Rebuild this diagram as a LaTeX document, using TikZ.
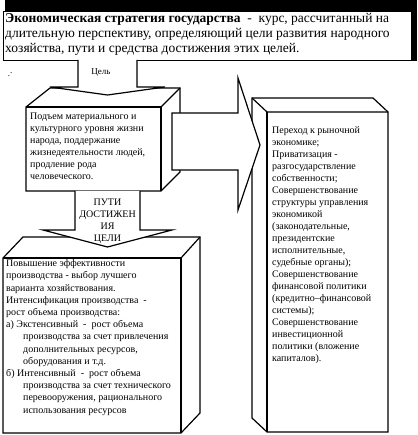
\documentclass[tikz,border=0pt]{standalone}
\usepackage{fontspec}
\setmainfont{Liberation Serif}
\usetikzlibrary{positioning}

\tikzset{
	edge/.style={line width=1.2pt, line join=miter},
	boxtext/.style={anchor=north west, align=left, inner sep=0pt,
		font=\fontsize{10}{12}\selectfont},
	arrowtext/.style={align=center, inner sep=0pt,
		font=\fontsize{10}{12}\selectfont}
}

\begin{document}
\begin{tikzpicture}[x=1pt, y=-1pt]
	\useasboundingbox (0,0) rectangle (417,435);
	% title with its shadow
	\fill (5,0) rectangle (417,61);
	\draw[line width=0.8pt, fill=white] (3,11) rectangle (411,60);
	\node[anchor=north west, align=left, inner sep=0pt,
		font=\fontsize{13.5}{15}\selectfont] (title) at (5,13)
		{\textbf{Экономическая стратегия государства}\ \ -\ \ курс, рассчитанный на\\
		длительную перспективу, определяющий цели развития народного\\
		хозяйства, пути и средства достижения этих целей.};
	\node[inner sep=0pt, font=\fontsize{9}{10}\selectfont] (mark) at (10,75) {.\raisebox{3pt}{.}};

	% goal box
	\coordinate (G1) at (26,107);
	\coordinate (G2) at (161,107);
	\coordinate (G3) at (161,191);
	\coordinate (G4) at (26,191);
	\coordinate (G5) at (50,88);
	\coordinate (G6) at (180,88);
	\coordinate (G7) at (180,172);
	\draw[edge, fill=white] (G4)--(G1)--(G5)--(G6)--(G7)--(G3)--cycle;
	\draw[edge] (G1)--(G2)--(G3);
	\draw[edge] (G2)--(G6);
	\node[boxtext] (goaltext) at (30,113)
		{Подъем материального и\\
		культурного уровня жизни\\
		народа, поддержание\\
		жизнедеятельности людей,\\
		продление рода\\
		человеческого.};

	% arrow "Цель"
	\draw[edge, fill=white] (78,60)--(78,87)--(50,87)--(107.5,95)--(165,87)--(137,87)--(137,60);
	\node[arrowtext, font=\fontsize{9}{11}\selectfont] (goallabel) at (101,73) {Цель};

	% means box
	\coordinate (M1) at (3,258);
	\coordinate (M2) at (181,258);
	\coordinate (M3) at (181,433);
	\coordinate (M4) at (3,433);
	\coordinate (M5) at (23,237);
	\coordinate (M6) at (200,237);
	\coordinate (M7) at (200,413);
	\draw[edge, fill=white] (M4)--(M1)--(M5)--(M6)--(M7)--(M3)--cycle;
	\draw[edge] (M1)--(M2)--(M3);
	\draw[edge] (M2)--(M6);
	\node[boxtext, font=\fontsize{10}{12.2}\selectfont] (meanstext) at (6,259.5)
		{Повышение эффективности\\
		производства - выбор лучшего\\
		варианта хозяйствования.\\
		Интенсификация производства\ \ -\\
		рост объема производства:\\
		а) Экстенсивный\ \ -\ \ рост объема\\
		\hspace*{17pt}производства за счет привлечения\\
		\hspace*{17pt}дополнительных ресурсов,\\
		\hspace*{17pt}оборудования и т.д.\\
		б) Интенсивный\ \ -\ \ рост объема\\
		\hspace*{17pt}производства за счет технического\\
		\hspace*{17pt}перевооружения, рационального\\
		\hspace*{17pt}использования ресурсов};

	% arrow "Пути достижения цели"
	\draw[edge, fill=white] (75,191)--(75,230)--(43,230)--(107.5,247)--(172,230)--(140,230)--(140,191);
	\node[arrowtext] (wayslabel) at (107.5,221)
		{ПУТИ\\ДОСТИЖЕН\\ИЯ\\ЦЕЛИ};

	% reform box
	\coordinate (R1) at (267,112);
	\coordinate (R2) at (388,112);
	\coordinate (R3) at (388,432);
	\coordinate (R4) at (267,432);
	\coordinate (R5) at (252,98);
	\coordinate (R6) at (373,98);
	\coordinate (R7) at (252,418);
	\draw[edge, fill=white] (R4)--(R7)--(R5)--(R6)--(R2)--(R3)--cycle;
	\draw[edge] (R5)--(R1)--(R2);
	\draw[edge] (R1)--(R4);
	\node[boxtext] (reformtext) at (272,126)
		{Переход к рыночной\\
		экономике;\\
		Приватизация -\\
		разгосударствление\\
		собственности;\\
		Совершенствование\\
		структуры управления\\
		экономикой\\
		(законодательные,\\
		президентские\\
		исполнительные,\\
		судебные органы);\\
		Совершенствование\\
		финансовой политики\\
		(кредитно–финансовой\\
		системы);\\
		Совершенствование\\
		инвестиционной\\
		политики (вложение\\
		капиталов).};

	% arrow to the right
	\draw[edge, fill=white] (172,113)--(238,113)--(238,78)--(260,145)--(238,210)--(238,170)--(172,170)--cycle;
\end{tikzpicture}
\end{document}
